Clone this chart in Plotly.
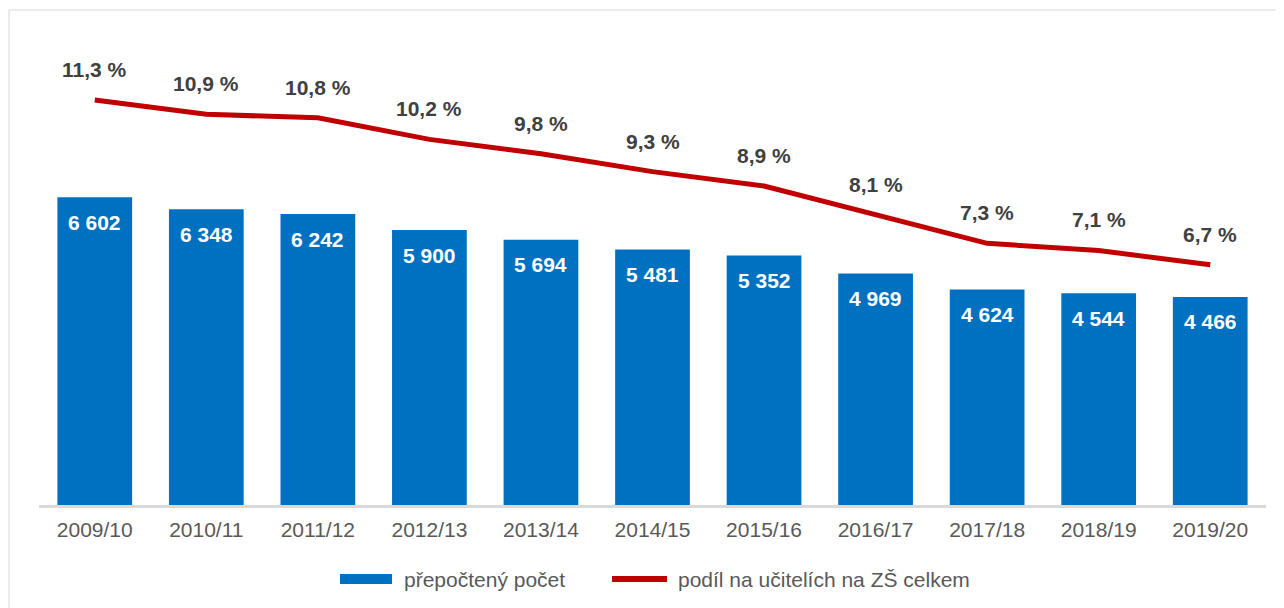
import plotly.graph_objects as go

years = ["2009/10", "2010/11", "2011/12", "2012/13", "2013/14", "2014/15",
         "2015/16", "2016/17", "2017/18", "2018/19", "2019/20"]
counts = [6602, 6348, 6242, 5900, 5694, 5481, 5352, 4969, 4624, 4544, 4466]
shares = [11.3, 10.9, 10.8, 10.2, 9.8, 9.3, 8.9, 8.1, 7.3, 7.1, 6.7]

bar_name = "přepočtený počet"
line_name = "podíl na učitelích na ZŠ celkem"

BAR_COLOR = "#0070C0"
LINE_COLOR = "#C00000"

W, H = 1284, 608
OFF = 8  # page body margin
ML, MR, MT, MB = 31, 26, 31, 111
PW = W - ML - MR
PH = H - MT - MB


def px(xp):
    return (xp - OFF - ML) / PW


def py(yp):
    return (MT + PH - (yp - OFF)) / PH


def fmt_count(v):
    return f"{v:,}".replace(",", " ")


def fmt_share(v):
    return f"{v:.1f}".replace(".", ",") + " %"


FONT = "Liberation Sans, Arial"

fig = go.Figure()
fig.add_trace(go.Bar(
    x=years, y=counts, name=bar_name,
    marker=dict(color=BAR_COLOR, line=dict(width=0)),
    yaxis="y", showlegend=False,
))
fig.add_trace(go.Scatter(
    x=years, y=shares, name=line_name, mode="lines",
    line=dict(color=LINE_COLOR, width=5),
    yaxis="y2", showlegend=False,
))

annotations = []
for yr, c in zip(years, counts):
    annotations.append(dict(
        x=yr, y=c, xref="x", yref="y", text=fmt_count(c), showarrow=False,
        yanchor="middle", xanchor="center", yshift=-25,
        font=dict(family=FONT, size=21, color="white", weight="bold"),
    ))
for yr, s in zip(years, shares):
    annotations.append(dict(
        x=yr, y=s, xref="x", yref="y2", text=fmt_share(s), showarrow=False,
        yanchor="middle", xanchor="center", yshift=30.5,
        font=dict(family=FONT, size=21, color="#404040", weight="bold"),
    ))

# custom legend (wide bar swatch like the original)
annotations.append(dict(
    x=px(402), y=py(579), xref="paper", yref="paper", text=bar_name,
    showarrow=False, xanchor="left", yanchor="middle",
    font=dict(family=FONT, size=21, color="#595959"),
))
annotations.append(dict(
    x=px(676), y=py(579), xref="paper", yref="paper", text=line_name,
    showarrow=False, xanchor="left", yanchor="middle",
    font=dict(family=FONT, size=21, color="#595959"),
))

shapes = [
    dict(type="rect", xref="paper", yref="paper", layer="below",
         x0=px(9), x1=px(W + 30), y0=py(H + 30), y1=py(10),
         line=dict(color="#D9D9D9", width=1), fillcolor="rgba(0,0,0,0)"),
    dict(type="rect", xref="paper", yref="paper",
         x0=px(340), x1=px(392), y0=py(584), y1=py(574),
         line=dict(width=0), fillcolor=BAR_COLOR),
    dict(type="line", xref="paper", yref="paper",
         x0=px(612), x1=px(667), y0=py(579), y1=py(579),
         line=dict(color=LINE_COLOR, width=6)),
]

fig.update_layout(
    width=W, height=H,
    margin=dict(l=ML, r=MR, t=MT, b=MB, pad=0),
    paper_bgcolor="white", plot_bgcolor="white",
    font=dict(family=FONT, size=21, color="#595959"),
    bargap=0.33,
    showlegend=False,
    xaxis=dict(
        showgrid=False, showline=True, linecolor="#D9D9D9", linewidth=3,
        ticks="", tickfont=dict(family=FONT, size=21, color="#595959"),
        zeroline=False, ticklabelstandoff=4,
    ),
    yaxis=dict(range=[0, 10000], visible=False, showgrid=False, zeroline=False),
    yaxis2=dict(range=[0, 13], visible=False, overlaying="y", side="right",
                showgrid=False, zeroline=False),
    annotations=annotations,
    shapes=shapes,
)

fig.write_html("out.html")
